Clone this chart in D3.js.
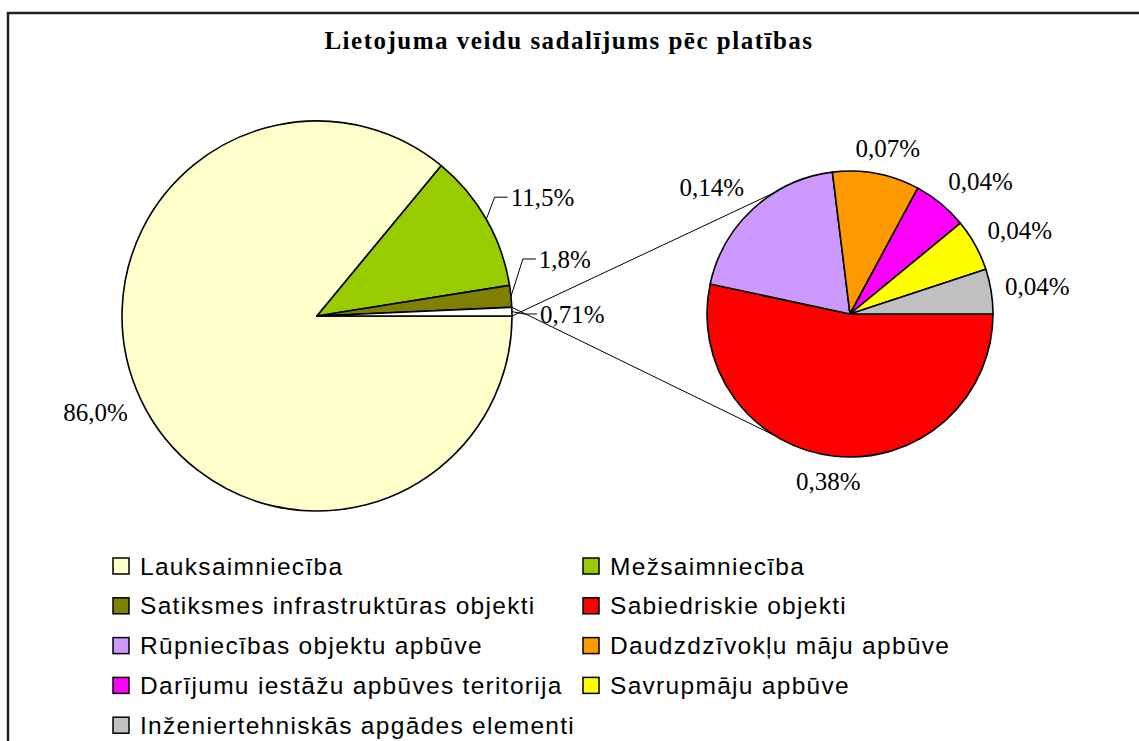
<!DOCTYPE html>
<html>
<head>
<meta charset="utf-8">
<script src="https://cdn.jsdelivr.net/npm/d3@7"></script>
<style>
  body { margin: 0; background: #fff; }
  svg { display: block; }
</style>
</head>
<body>
<svg id="chart"></svg>
<script>
// main pie slices (in %), the last one is split out into the small pie
let mainNames = ['Lauksaimniecība', 'Mežsaimniecība', 'Satiksmes infrastruktūras objekti'];
let mainValues = [86.0, 11.5, 1.8];
let mainColors = ['#FFFFCC', '#99CC00', '#808000'];

let otherNames = ['Sabiedriskie objekti', 'Rūpniecības objektu apbūve', 'Daudzdzīvokļu māju apbūve',
                  'Darījumu iestāžu apbūves teritorija', 'Savrupmāju apbūve', 'Inženiertehniskās apgādes elementi'];
let otherValues = [0.38, 0.14, 0.07, 0.044, 0.042, 0.036];
let otherColors = ['#FF0000', '#CC99FF', '#FF9900', '#FF00FF', '#FFFF00', '#C0C0C0'];

let title = 'Lietojuma veidu sadalījums pēc platības';

let width = 1139;
let height = 741;

let mainCx = 317, mainCy = 316, mainR = 195;
let subCx = 850, subCy = 314, subR = 143;
let connectorAngle = 122 * Math.PI / 180;

let svg = d3.select('#chart').attr('width', width).attr('height', height);

let fmt = (v) => (v >= 1 ? v.toFixed(1) : v.toFixed(2)).replace('.', ',') + '%';

// math angle (counter-clockwise from east) of a d3 arc's middle
let midAngle = (a) => Math.PI / 2 - (a.startAngle + a.endAngle) / 2;
let clamp = (v) => Math.max(-1, Math.min(1, v));

// frame
svg.append('path')
    .attr('d', `M8,${height} V13 H${width}`)
    .attr('fill', 'none')
    .attr('stroke', '#222')
    .attr('stroke-width', 2.5);

svg.append('text')
    .attr('x', 569)
    .attr('y', 49)
    .attr('text-anchor', 'middle')
    .style('font-family', '"Liberation Serif", "Times New Roman", serif')
    .style('font-weight', 'bold')
    .style('font-size', '25px')
    .style('letter-spacing', '1.5px')
    .text(title);

let otherTotal = d3.sum(otherValues);

let mainData = mainValues.map((v, i) => ({ name: mainNames[i], value: v, color: mainColors[i] }));
mainData.push({ name: 'other', value: otherTotal, color: '#FFFFFF' });
let subData = otherValues.map((v, i) => ({ name: otherNames[i], value: v, color: otherColors[i] }));

let pie = d3.pie()
    .sort(null)
    .value(d => d.value)
    .startAngle(Math.PI / 2)
    .endAngle(Math.PI / 2 + 2 * Math.PI);

let mainArcs = pie(mainData);
let subArcs = pie(subData);

let mainArc = d3.arc().innerRadius(0).outerRadius(mainR);
let subArc = d3.arc().innerRadius(0).outerRadius(subR);

// connector lines between the "other" slice and the small pie
let otherSlice = mainArcs[mainArcs.length - 1];
let edgeAngles = [Math.PI / 2 - otherSlice.startAngle, Math.PI / 2 - otherSlice.endAngle];
let subAngles = [-connectorAngle, connectorAngle];
edgeAngles.forEach((ang, i) => {
    svg.append('line')
        .attr('x1', mainCx + mainR * Math.cos(ang))
        .attr('y1', mainCy - mainR * Math.sin(ang))
        .attr('x2', subCx + subR * Math.cos(subAngles[i]))
        .attr('y2', subCy - subR * Math.sin(subAngles[i]))
        .attr('stroke', '#000')
        .attr('stroke-width', 1);
});

svg.append('g')
    .attr('transform', `translate(${mainCx},${mainCy})`)
    .selectAll('path')
    .data(mainArcs)
    .enter()
    .append('path')
    .attr('d', mainArc)
    .attr('fill', d => d.data.color)
    .attr('stroke', '#000')
    .attr('stroke-width', 1.6)
    .attr('stroke-linejoin', 'round');

svg.append('g')
    .attr('transform', `translate(${subCx},${subCy})`)
    .selectAll('path')
    .data(subArcs)
    .enter()
    .append('path')
    .attr('d', subArc)
    .attr('fill', d => d.data.color)
    .attr('stroke', '#000')
    .attr('stroke-width', 1.6)
    .attr('stroke-linejoin', 'round');

// data labels
let labelFont = (sel) => sel
    .style('font-family', '"Liberation Serif", "Times New Roman", serif')
    .style('font-size', '25px')
    .attr('fill', '#000');

let placeLabel = (cx, cy, r, gap, theta, w, h) => {
    let px = cx + (r + gap) * Math.cos(theta);
    let py = cy - (r + gap) * Math.sin(theta);
    return [px + w / 2 * clamp(1.5 * Math.cos(theta)), py - h / 2 * clamp(1.5 * Math.sin(theta))];
};

let labelH = 22;

// small pie labels
subArcs.forEach((a) => {
    let t = svg.append('text').call(labelFont)
        .attr('text-anchor', 'middle')
        .attr('dominant-baseline', 'central')
        .text(fmt(a.data.value));
    let w = t.node().getComputedTextLength();
    let [x, y] = placeLabel(subCx, subCy, subR, 14, midAngle(a), w, labelH);
    t.attr('x', x).attr('y', y);
});

// main pie labels, the thin ones get leader lines and are pushed apart
let mainLabels = mainArcs.map((a) => {
    let t = svg.append('text').call(labelFont)
        .attr('text-anchor', 'middle')
        .attr('dominant-baseline', 'central')
        .text(fmt(a.data.value));
    let w = t.node().getComputedTextLength();
    let theta = midAngle(a);
    let leader = a.data.value < 20;
    let [x, y] = placeLabel(mainCx, mainCy, mainR, leader ? 28 : 14, theta, w, labelH);
    return { t, w, theta, leader, x, y };
});

let minGap = 55;
let prevY = null;
mainLabels.filter(l => l.leader)
    .sort((a, b) => a.theta - b.theta)
    .forEach((l) => {
        if (prevY === null) l.y = mainCy - 2;
        else if (l.y > prevY - minGap) l.y = prevY - minGap;
        prevY = l.y;
    });

mainLabels.forEach((l) => {
    l.t.attr('x', l.x).attr('y', l.y);
    if (!l.leader) return;
    let left = l.x - l.w / 2;
    let ax = mainCx + mainR * Math.cos(l.theta);
    let ay = mainCy - mainR * Math.sin(l.theta);
    svg.append('path')
        .attr('d', `M${ax},${ay} L${left - 16},${l.y} L${left - 3},${l.y}`)
        .attr('fill', 'none')
        .attr('stroke', '#000')
        .attr('stroke-width', 1);
});

// legend
let legendNames = mainNames.concat(otherNames);
let legendColors = mainColors.concat(otherColors);
let colX = [113, 583];
let rowY0 = 566, rowStep = 39.8;

let legend = svg.append('g')
    .selectAll('g')
    .data(legendNames)
    .enter()
    .append('g')
    .attr('transform', (d, i) => `translate(${colX[i % 2]},${rowY0 + Math.floor(i / 2) * rowStep})`);

legend.append('rect')
    .attr('x', 0)
    .attr('y', -8)
    .attr('width', 16)
    .attr('height', 16)
    .attr('fill', (d, i) => legendColors[i])
    .attr('stroke', '#000')
    .attr('stroke-width', 1.5);

legend.append('text')
    .attr('x', 27)
    .attr('y', 0)
    .attr('dominant-baseline', 'central')
    .style('font-family', '"Liberation Sans", Arial, sans-serif')
    .style('font-size', '24.5px')
    .style('letter-spacing', '1.3px')
    .attr('fill', '#000')
    .text(d => d);
</script>
</body>
</html>
